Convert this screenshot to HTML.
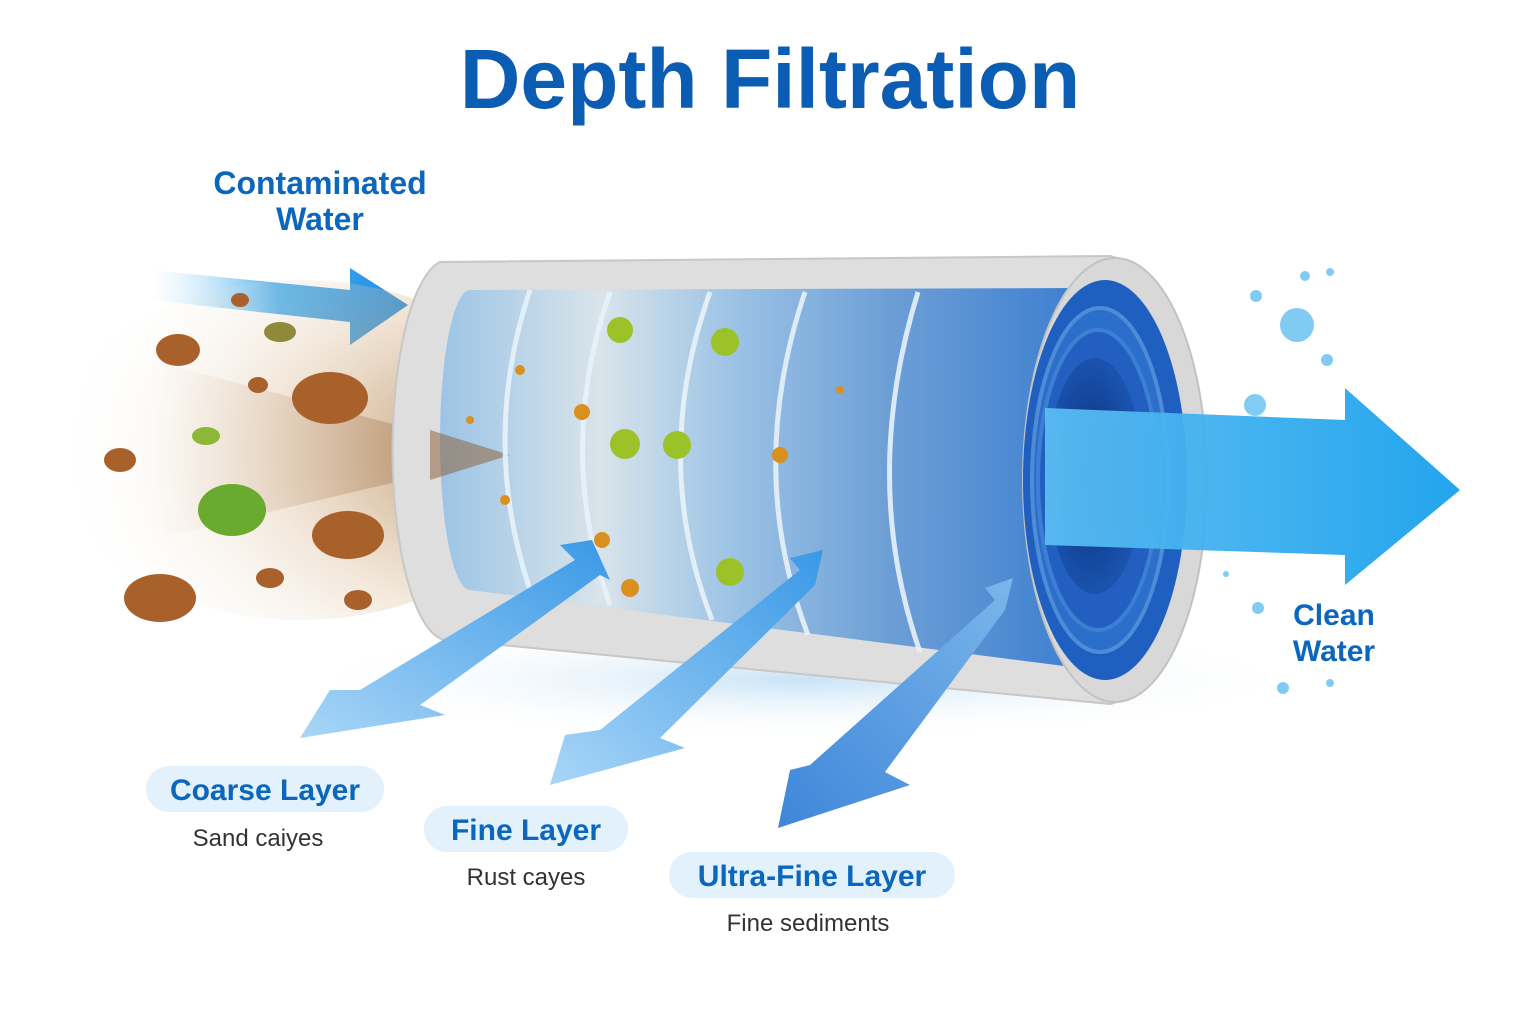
<!DOCTYPE html>
<html><head><meta charset="utf-8"><style>
html,body{margin:0;padding:0;background:#fff}
svg{display:block}
text{font-family:"Liberation Sans",sans-serif}
</style></head><body>
<svg width="1536" height="1024" viewBox="0 0 1536 1024" xmlns="http://www.w3.org/2000/svg">
<defs>
<linearGradient id="inArrow" x1="0" y1="0" x2="1" y2="0"><stop offset="0" stop-color="#bfe3fb" stop-opacity="0"/><stop offset="0.5" stop-color="#4fb2f0"/><stop offset="1" stop-color="#1b8be4"/></linearGradient>
<linearGradient id="outArrow" x1="0" y1="0" x2="1" y2="0"><stop offset="0" stop-color="#5bbcf2"/><stop offset="1" stop-color="#17a0ec"/></linearGradient>
<linearGradient id="bodyG" x1="0" y1="0" x2="1" y2="0"><stop offset="0" stop-color="#9cc4e6"/><stop offset="0.25" stop-color="#d9e4ea"/><stop offset="0.45" stop-color="#9ec4e6"/><stop offset="0.7" stop-color="#6d9fd6"/><stop offset="1" stop-color="#3d7fd0"/></linearGradient>
<linearGradient id="downA" x1="0" y1="1" x2="1" y2="0"><stop offset="0" stop-color="#a9d6f7"/><stop offset="1" stop-color="#3a98e6"/></linearGradient>
<linearGradient id="downB" x1="0" y1="1" x2="1" y2="0"><stop offset="0" stop-color="#3f86da"/><stop offset="1" stop-color="#7bb6ea"/></linearGradient>
<radialGradient id="spray" cx="0.9" cy="0.5" r="0.9"><stop offset="0" stop-color="#a8763f" stop-opacity="0.8"/><stop offset="0.5" stop-color="#d6b48c" stop-opacity="0.35"/><stop offset="1" stop-color="#fff" stop-opacity="0"/></radialGradient>
<linearGradient id="stream" x1="0" y1="0" x2="1" y2="0"><stop offset="0" stop-color="#c9a27a" stop-opacity="0"/><stop offset="1" stop-color="#8a5a2e" stop-opacity="0.9"/></linearGradient>
<radialGradient id="hole" cx="0.45" cy="0.5" r="0.6"><stop offset="0" stop-color="#0a2f7a"/><stop offset="1" stop-color="#1d5ab8"/></radialGradient>
<radialGradient id="shadow" cx="0.5" cy="0.5" r="0.5"><stop offset="0" stop-color="#c9e3f6"/><stop offset="1" stop-color="#fff" stop-opacity="0"/></radialGradient>
</defs>
<rect width="1536" height="1024" fill="#fff"/>
<ellipse cx="800" cy="680" rx="520" ry="60" fill="url(#shadow)"/>
<text x="770" y="108" text-anchor="middle" font-size="84" font-weight="bold" fill="#0b5db3">Depth Filtration</text>
<text x="320" y="194" text-anchor="middle" font-size="32" font-weight="bold" fill="#0b66bd">Contaminated</text>
<text x="320" y="230" text-anchor="middle" font-size="32" font-weight="bold" fill="#0b66bd">Water</text>
<polygon points="150,270 350,290 350,268 408,305 350,345 350,322 150,300" fill="url(#inArrow)"/>
<ellipse cx="300" cy="450" rx="250" ry="170" fill="url(#spray)"/>
<polygon points="150,360 510,455 150,540" fill="url(#stream)" opacity="0.6"/>
<g fill="#a8612a">
<ellipse cx="178" cy="350" rx="22" ry="16"/><ellipse cx="330" cy="398" rx="38" ry="26"/><ellipse cx="120" cy="460" rx="16" ry="12"/>
<ellipse cx="348" cy="535" rx="36" ry="24"/><ellipse cx="160" cy="598" rx="36" ry="24"/><ellipse cx="270" cy="578" rx="14" ry="10"/>
<ellipse cx="358" cy="600" rx="14" ry="10"/><ellipse cx="240" cy="300" rx="9" ry="7"/><ellipse cx="258" cy="385" rx="10" ry="8"/>
<ellipse cx="280" cy="332" rx="16" ry="10" fill="#8f8a3a"/>
</g>
<ellipse cx="232" cy="510" rx="34" ry="26" fill="#6aaa2e"/>
<ellipse cx="206" cy="436" rx="14" ry="9" fill="#8cb83a"/>
<path d="M440,262 L1110,256 A95,225 0 0 1 1110,704 L450,640 A55,190 0 0 1 440,262 Z" fill="#dedede" stroke="#c7c7c7" stroke-width="2"/>
<path d="M470,290 L1080,288 L1080,668 L470,590 A30,150 0 0 1 470,290 Z" fill="url(#bodyG)"/>
<polygon points="430,430 510,455 430,480" fill="#8a5a2e" opacity="0.5"/>
<g fill="none" stroke="#e8f2fb" stroke-width="5" opacity="0.9">
<path d="M530,290 Q480,440 530,590"/>
<path d="M610,292 Q555,450 610,605"/>
<path d="M710,292 Q650,460 712,620"/>
<path d="M805,292 Q745,470 808,635"/>
<path d="M918,292 Q860,480 920,652"/>
</g>
<g fill="#d9901f"><circle cx="520" cy="370" r="5"/><circle cx="505" cy="500" r="5"/><circle cx="582" cy="412" r="8"/><circle cx="602" cy="540" r="8"/><circle cx="630" cy="588" r="9"/><circle cx="780" cy="455" r="8"/><circle cx="470" cy="420" r="4"/><circle cx="840" cy="390" r="4"/></g>
<g fill="#9cc22a"><circle cx="620" cy="330" r="13"/><circle cx="625" cy="444" r="15"/><circle cx="677" cy="445" r="14"/><circle cx="725" cy="342" r="14"/><circle cx="730" cy="572" r="14"/></g>
<ellipse cx="1115" cy="480" rx="92" ry="222" fill="#d8d8d8" stroke="#c2c2c2" stroke-width="2"/>
<ellipse cx="1105" cy="480" rx="82" ry="200" fill="#1e5fc0"/>
<ellipse cx="1100" cy="480" rx="68" ry="172" fill="#2b6fcb" stroke="#4f8cd8" stroke-width="4"/>
<ellipse cx="1098" cy="480" rx="60" ry="150" fill="#225fc0" stroke="#3d7fd2" stroke-width="4"/>
<ellipse cx="1095" cy="476" rx="48" ry="118" fill="url(#hole)"/>
<polygon points="1045,408 1345,420 1345,388 1460,490 1345,585 1345,555 1045,545" fill="url(#outArrow)" opacity="0.95"/>
<g fill="#6cc3f2" opacity="0.85"><circle cx="1297" cy="325" r="17"/><circle cx="1255" cy="405" r="11"/><circle cx="1256" cy="296" r="6"/><circle cx="1305" cy="276" r="5"/><circle cx="1330" cy="272" r="4"/><circle cx="1327" cy="360" r="6"/><circle cx="1258" cy="608" r="6"/><circle cx="1283" cy="688" r="6"/><circle cx="1330" cy="683" r="4"/><circle cx="1226" cy="574" r="3"/></g>
<text x="1334" y="625" text-anchor="middle" font-size="30" font-weight="bold" fill="#0b66bd">Clean</text>
<text x="1334" y="661" text-anchor="middle" font-size="30" font-weight="bold" fill="#0b66bd">Water</text>
<polygon points="592,540 560,545 575,560 360,690 330,690 300,738 445,715 420,705 600,575 610,580" fill="url(#downA)"/>
<polygon points="823,550 790,558 800,570 600,730 565,735 550,785 685,748 660,738 815,585" fill="url(#downA)"/>
<polygon points="1013,578 985,588 995,600 810,765 790,770 778,828 910,785 885,772 1005,610" fill="url(#downB)"/>
<rect x="146" y="766" width="238" height="46" rx="23" fill="#e2f1fc"/>
<text x="265" y="800" text-anchor="middle" font-size="30" font-weight="bold" fill="#0b66bd">Coarse Layer</text>
<text x="258" y="846" text-anchor="middle" font-size="24" fill="#333">Sand caiyes</text>
<rect x="424" y="806" width="204" height="46" rx="23" fill="#e2f1fc"/>
<text x="526" y="840" text-anchor="middle" font-size="30" font-weight="bold" fill="#0b66bd">Fine Layer</text>
<text x="526" y="885" text-anchor="middle" font-size="24" fill="#333">Rust cayes</text>
<rect x="669" y="852" width="286" height="46" rx="23" fill="#e2f1fc"/>
<text x="812" y="886" text-anchor="middle" font-size="30" font-weight="bold" fill="#0b66bd">Ultra-Fine Layer</text>
<text x="808" y="931" text-anchor="middle" font-size="24" fill="#333">Fine sediments</text>
</svg>
</body></html>
